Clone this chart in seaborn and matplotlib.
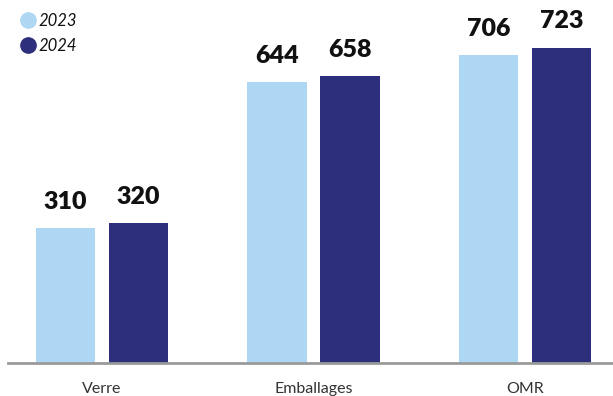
import matplotlib
matplotlib.use("Agg")
import matplotlib.pyplot as plt
from matplotlib.lines import Line2D
import seaborn as sns
import pandas as pd

categories = ["Verre", "Emballages", "OMR"]
years = ["2023", "2024"]
values_2023 = [310, 644, 706]
values_2024 = [320, 658, 723]

colors = {"2023": "#AED7F3", "2024": "#2D2F7D"}

df = pd.DataFrame({
    "cat": categories * 2,
    "year": ["2023"] * 3 + ["2024"] * 3,
    "val": values_2023 + values_2024,
})

sns.set_theme(style="white")
plt.rcParams['font.family'] = ['Lato', 'DejaVu Sans']

fig = plt.figure(figsize=(6.13, 3.96), dpi=100)
ax = fig.add_axes([8 / 613, 33 / 396, 605 / 613, 363 / 396])

sns.barplot(data=df, x="cat", y="val", hue="year", order=categories,
            hue_order=years, palette=colors, width=0.69, gap=0.19,
            ax=ax, legend=False, saturation=1, linewidth=0)

ax.set_xlim(-0.444, 2.416)
ax.set_ylim(0, 363 / 0.436)

for container in ax.containers:
    for bar in container:
        h = bar.get_height()
        ax.annotate(f"{h:.0f}", (bar.get_x() + bar.get_width() / 2, h),
                    xytext=(0, 11), textcoords="offset points",
                    ha="center", va="bottom", fontsize=18,
                    fontweight="heavy", color="#111111")

for s in ["top", "right", "left"]:
    ax.spines[s].set_visible(False)
ax.spines["bottom"].set_color("#9a9a9a")
ax.spines["bottom"].set_linewidth(2)
ax.set_yticks([])
ax.set_xlabel("")
ax.set_ylabel("")
ax.tick_params(axis="x", length=0, pad=14, labelsize=11.5, labelcolor="#333333")

handles = [Line2D([0], [0], marker="o", linestyle="", markersize=11,
                  markerfacecolor=colors[y], markeredgecolor=colors[y]) for y in years]
leg = fig.legend(handles, years, loc="upper left",
                 bbox_to_anchor=(3 / 613, 1 + 2 / 396), frameon=False,
                 handletextpad=0.05, labelspacing=0.55, handlelength=1.2,
                 prop={"style": "italic", "size": 12})
for t in leg.get_texts():
    t.set_color("#111111")

fig.savefig("out.png", dpi=100)
